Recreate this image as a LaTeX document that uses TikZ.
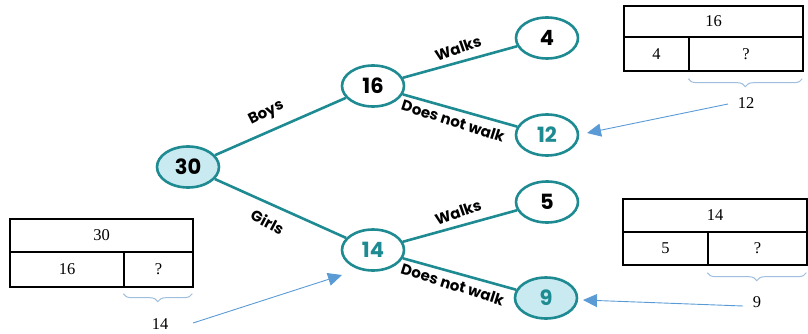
\documentclass[tikz,border=0pt]{standalone}
\usepackage{fontspec}
\setmainfont{Liberation Serif}
\newfontfamily\treefont{Poppins}
\usetikzlibrary{shapes.geometric,arrows.meta,decorations.pathreplacing}
\definecolor{teal1}{RGB}{30,138,145}
\definecolor{lightfill}{RGB}{200,234,240}
\definecolor{arrowblue}{RGB}{91,155,213}
\definecolor{bracecol}{RGB}{160,190,222}
\tikzset{
  tnode/.style={ellipse,draw=teal1,line width=2.6pt,fill=white,minimum width=62pt,minimum height=41pt,inner sep=0pt,font=\treefont\bfseries\fontsize{21}{23}\selectfont},
  hl/.style={fill=lightfill},
  tcol/.style={text=teal1},
  branch/.style={draw=teal1,line width=2.6pt},
  elab/.style={font=\treefont\bfseries\fontsize{15}{17}\selectfont,sloped,inner sep=0pt},
  cell/.style={draw=black,line width=1.4pt,inner sep=0pt,font=\fontsize{16.5}{18}\selectfont},
  plain/.style={inner sep=0pt,font=\fontsize{16.5}{18}\selectfont},
  pointer/.style={draw=arrowblue,line width=0.9pt,-{Triangle[length=14pt,width=13pt]}},
  curly/.style={draw=bracecol,line width=1pt,decorate,decoration={brace,mirror,amplitude=8pt}}
}
\begin{document}
\begin{tikzpicture}[x=1pt,y=-1pt]
\useasboundingbox (0,0) rectangle (808,334);
% tree
\node[tnode,hl] (n30) at (188,167) {30};
\node[tnode] (n16) at (373,86) {16};
\node[tnode,tcol] (n14) at (373,250) {14};
\node[tnode] (n4) at (547,38) {4};
\node[tnode,tcol] (n12) at (547,135) {12};
\node[tnode] (n5) at (547,202) {5};
\node[tnode,hl,tcol] (n9) at (546,298) {9};
\path[branch] (n30) -- node[elab,pos=0.45,above=9pt,rotate=3] {Boys} (n16);
\path[branch] (n30) -- node[elab,pos=0.46,below=10pt,rotate=-4] {Girls} (n14);
\path[branch] (n16) -- node[elab,pos=0.52,above=7pt,rotate=4] {Walks} (n4);
\path[branch] (n16) -- node[elab,pos=0.47,below=5pt,rotate=-2] {Does not walk} (n12);
\path[branch] (n14) -- node[elab,pos=0.52,above=7pt,rotate=4] {Walks} (n5);
\path[branch] (n14) -- node[elab,pos=0.47,below=5pt,rotate=-2] {Does not walk} (n9);
% top-right bar model
\node[cell,minimum width=179pt,minimum height=31pt] (tr16) at (713.5,21.5) {16};
\node[cell,minimum width=65pt,minimum height=34pt] (tr4) at (656.5,54) {4};
\node[cell,minimum width=114pt,minimum height=34pt] (trq) at (746,54) {?};
\draw[curly] (trq.south west)++(0,7) coordinate (b1a) -- ++(114,0) coordinate (b1b);
\node[plain] (l12) at (746,103) {12};
\coordinate (s12) at (728,104);
\coordinate (t12) at (587,133);
\draw[pointer] (s12) -- (t12);
% bottom-left bar model
\node[cell,minimum width=183pt,minimum height=33pt] (bl30) at (101.5,235.5) {30};
\node[cell,minimum width=114pt,minimum height=35pt] (bl16) at (67,269.5) {16};
\node[cell,minimum width=69pt,minimum height=35pt] (blq) at (158.5,269.5) {?};
\draw[curly] (blq.south west)++(0,6) coordinate (b2a) -- ++(69,0) coordinate (b2b);
\node[plain] (l14) at (160,324) {14};
\coordinate (s14) at (193,323);
\coordinate (t14) at (342,275);
\draw[pointer] (s14) -- (t14);
% bottom-right bar model
\node[cell,minimum width=184pt,minimum height=33pt] (br14) at (715,215.5) {14};
\node[cell,minimum width=85pt,minimum height=33pt] (br5) at (665.5,248.5) {5};
\node[cell,minimum width=99pt,minimum height=33pt] (brq) at (757.5,248.5) {?};
\draw[curly] (brq.south west)++(0,7) coordinate (b3a) -- ++(99,0) coordinate (b3b);
\node[plain] (l9) at (757,302) {9};
\coordinate (s9) at (743,306);
\coordinate (t9) at (583,300);
\draw[pointer] (s9) -- (t9);
\end{tikzpicture}
\end{document}
